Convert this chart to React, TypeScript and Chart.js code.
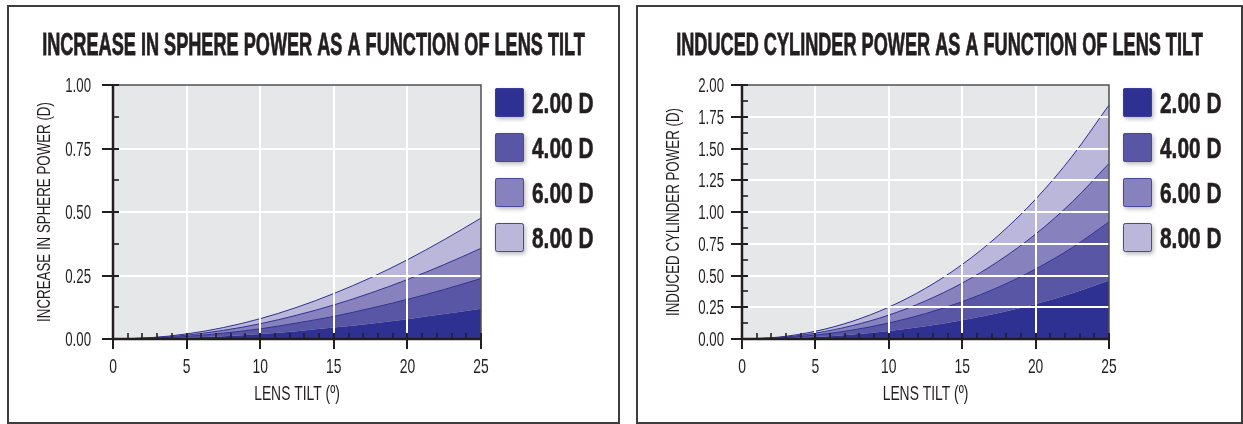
import React, { useEffect, useRef } from "react";
import { Chart, registerables } from "chart.js";

Chart.register(...registerables);

// ---------- data ----------
const TILT_DEG = [0, 2.5, 5, 7.5, 10, 12.5, 15, 17.5, 20, 22.5, 25];

const SPHERE_2D = [0, 0.001, 0.005, 0.011, 0.020, 0.031, 0.045, 0.060, 0.078, 0.098, 0.119];
const SPHERE_4D = [0, 0.003, 0.010, 0.023, 0.040, 0.063, 0.089, 0.121, 0.156, 0.195, 0.238];
const SPHERE_6D = [0, 0.004, 0.015, 0.034, 0.060, 0.094, 0.134, 0.181, 0.234, 0.293, 0.357];
const SPHERE_8D = [0, 0.005, 0.020, 0.045, 0.080, 0.125, 0.179, 0.241, 0.312, 0.391, 0.476];

const CYL_2D = [0, 0.004, 0.015, 0.035, 0.063, 0.100, 0.147, 0.205, 0.275, 0.360, 0.461];
const CYL_4D = [0, 0.008, 0.031, 0.070, 0.126, 0.200, 0.294, 0.410, 0.551, 0.720, 0.922];
const CYL_6D = [0, 0.011, 0.046, 0.105, 0.188, 0.300, 0.440, 0.615, 0.826, 1.080, 1.382];
const CYL_8D = [0, 0.015, 0.061, 0.139, 0.251, 0.399, 0.587, 0.819, 1.101, 1.440, 1.843];

const LEGEND_LABELS = ["2.00 D", "4.00 D", "6.00 D", "8.00 D"];
const X_TICKS = [0, 5, 10, 15, 20, 25];
const SPHERE_Y_TICKS = [0, 0.25, 0.5, 0.75, 1.0];
const CYL_Y_TICKS = [0, 0.25, 0.5, 0.75, 1.0, 1.25, 1.5, 1.75, 2.0];

const SPHERE_TITLE = "INCREASE IN SPHERE POWER AS A FUNCTION OF LENS TILT";
const CYL_TITLE = "INDUCED CYLINDER POWER AS A FUNCTION OF LENS TILT";
const SPHERE_Y_TITLE = "INCREASE IN SPHERE POWER (D)";
const CYL_Y_TITLE = "INDUCED CYLINDER POWER (D)";
const X_TITLE = "LENS TILT (º)";

// ---------- styles ----------
const FILLS = ["#2e3192", "#5a56a6", "#8782bd", "#bab7da"];
const LINE = "#2e3192";
const INK = "#231f20";
const SANS = "'Liberation Sans', Arial, sans-serif";

type Spec = {
  series: number[][];
  yTicks: number[];
  yMax: number;
  title: string;
  yTitle: string;
  width: number;
  height: number;
  padding: { left: number; top: number; right: number; bottom: number };
  yLabelGap: number;
};

function drawText(
  ctx: CanvasRenderingContext2D,
  text: string,
  x: number,
  y: number,
  font: string,
  scaleX: number,
  align: CanvasTextAlign,
  rotate = false,
  stroke = 0
) {
  ctx.save();
  ctx.translate(x, y);
  if (rotate) ctx.rotate(-Math.PI / 2);
  ctx.scale(scaleX, 1);
  ctx.font = font;
  ctx.textAlign = align;
  ctx.textBaseline = "alphabetic";
  ctx.fillStyle = INK;
  ctx.fillText(text, 0, 0);
  if (stroke > 0) {
    ctx.strokeStyle = INK;
    ctx.lineWidth = stroke;
    ctx.strokeText(text, 0, 0);
  }
  ctx.restore();
}

function line(ctx: CanvasRenderingContext2D, x1: number, y1: number, x2: number, y2: number) {
  ctx.beginPath();
  ctx.moveTo(x1, y1);
  ctx.lineTo(x2, y2);
  ctx.stroke();
}

function makeDecor(spec: Spec) {
  return {
    id: "decor",
    beforeDatasetsDraw(chart: any) {
      const { ctx, chartArea: a } = chart;
      ctx.save();
      ctx.fillStyle = "#e6e7e8";
      ctx.fillRect(a.left, a.top, a.right - a.left, a.bottom - a.top);
      ctx.restore();
    },
    afterDraw(chart: any) {
      const { ctx, chartArea: a } = chart;
      const xs = chart.scales.x;
      const ys = chart.scales.y;
      ctx.save();
      ctx.lineCap = "butt";

      // white grid drawn over the areas
      ctx.strokeStyle = "#ffffff";
      ctx.lineWidth = 2;
      spec.yTicks.forEach((v) => {
        if (v === 0 || v === spec.yMax) return;
        const py = Math.round(ys.getPixelForValue(v));
        line(ctx, a.left, py, a.right, py);
      });
      X_TICKS.forEach((v) => {
        if (v === 0 || v === 25) return;
        const px = Math.round(xs.getPixelForValue(v));
        line(ctx, px, a.top, px, a.bottom - 6);
      });

      // plot frame (top/right)
      ctx.strokeStyle = "#505050";
      ctx.lineWidth = 1.5;
      ctx.beginPath();
      ctx.moveTo(a.left, a.top);
      ctx.lineTo(a.right, a.top);
      ctx.lineTo(a.right, a.bottom);
      ctx.stroke();

      // axes
      ctx.strokeStyle = INK;
      ctx.lineWidth = 2.5;
      line(ctx, a.left, a.top, a.left, a.bottom);
      line(ctx, a.left - 1, a.bottom, a.right + 1, a.bottom);

      // y ticks
      const step = spec.yTicks[1] - spec.yTicks[0];
      ctx.lineWidth = 2;
      spec.yTicks.forEach((v) => {
        const py = Math.round(ys.getPixelForValue(v));
        line(ctx, a.left - 11, py, a.left + 6, py);
        drawText(ctx, v.toFixed(2), a.left - spec.yLabelGap, py + 7, `19.5px ${SANS}`, 0.68, "right");
        if (v < spec.yMax) {
          const pm = Math.round(ys.getPixelForValue(v + step / 2));
          ctx.lineWidth = 1.6;
          line(ctx, a.left, pm, a.left + 6, pm);
          ctx.lineWidth = 2;
        }
      });

      // x ticks
      for (let d = 0; d <= 25; d++) {
        const px = Math.round(xs.getPixelForValue(d));
        if (d % 5 === 0) {
          ctx.lineWidth = 2;
          line(ctx, px, a.bottom - 6, px, a.bottom + 10);
        } else {
          ctx.lineWidth = 1.6;
          line(ctx, px, a.bottom - 6, px, a.bottom);
        }
      }
      X_TICKS.forEach((v) => {
        const px = xs.getPixelForValue(v);
        drawText(ctx, String(v), px, a.bottom + 34, `21px ${SANS}`, 0.66, "center");
      });

      // axis titles
      drawText(ctx, X_TITLE, (a.left + a.right) / 2, a.bottom + 61, `21px ${SANS}`, 0.66, "center");
      drawText(ctx, spec.yTitle, a.left - 63.5, (a.top + a.bottom) / 2, `18.5px ${SANS}`, 0.72, "center", true);

      // chart title
      drawText(ctx, spec.title, spec.width / 2, 48, `bold 31px ${SANS}`, 0.585, "center", false, 0.8);

      // legend
      const bx = a.right + 14;
      LEGEND_LABELS.forEach((lab, i) => {
        const by = 81 + i * 45;
        ctx.save();
        ctx.shadowColor = "rgba(0,0,0,0.28)";
        ctx.shadowBlur = 4;
        ctx.shadowOffsetX = 1.5;
        ctx.shadowOffsetY = 2;
        ctx.fillStyle = FILLS[i];
        ctx.beginPath();
        (ctx as any).roundRect(bx, by, 29, 29, 2);
        ctx.fill();
        ctx.restore();
        ctx.strokeStyle = i === 0 ? "#3a3d9c" : "#4a47a0";
        ctx.lineWidth = 1;
        ctx.beginPath();
        (ctx as any).roundRect(bx + 0.5, by + 0.5, 28, 28, 2);
        ctx.stroke();
        drawText(ctx, lab, bx + 37, by + 25, `bold 29px ${SANS}`, 0.72, "left", false, 0.6);
      });

      ctx.restore();
    },
  };
}

function AreaChart({ spec }: { spec: Spec }) {
  const ref = useRef<HTMLCanvasElement | null>(null);
  useEffect(() => {
    if (!ref.current) return;
    const datasets = spec.series.map((arr, i) => ({
      label: LEGEND_LABELS[i],
      data: TILT_DEG.map((x, j) => ({ x, y: arr[j] })),
      backgroundColor: FILLS[i],
      borderColor: LINE,
      borderWidth: i === 0 ? 0 : 1,
      pointRadius: 0,
      cubicInterpolationMode: "monotone" as const,
      fill: i === 0 ? "origin" : "-1",
    }));
    const chart = new Chart(ref.current, {
      type: "line",
      data: { datasets },
      options: {
        animation: false,
        responsive: false,
        events: [],
        layout: { padding: spec.padding },
        plugins: { legend: { display: false }, title: { display: false }, tooltip: { enabled: false } },
        scales: {
          x: { type: "linear", min: 0, max: 25, display: false },
          y: { type: "linear", min: 0, max: spec.yMax, display: false },
        },
      },
      plugins: [makeDecor(spec)],
    } as any);
    return () => chart.destroy();
  }, [spec]);
  return <canvas ref={ref} width={spec.width} height={spec.height} style={{ display: "block", width: spec.width, height: spec.height }} />;
}

const LEFT_SPEC: Spec = {
  series: [SPHERE_2D, SPHERE_4D, SPHERE_6D, SPHERE_8D],
  yTicks: SPHERE_Y_TICKS,
  yMax: 1,
  title: SPHERE_TITLE,
  yTitle: SPHERE_Y_TITLE,
  width: 609,
  height: 415,
  padding: { left: 104, top: 78, right: 137, bottom: 83 },
  yLabelGap: 22,
};

const RIGHT_SPEC: Spec = {
  series: [CYL_2D, CYL_4D, CYL_6D, CYL_8D],
  yTicks: CYL_Y_TICKS,
  yMax: 2,
  title: CYL_TITLE,
  yTitle: CYL_Y_TITLE,
  width: 603,
  height: 415,
  padding: { left: 104, top: 78, right: 132, bottom: 83 },
  yLabelGap: 18,
};

const panelStyle = (left: number, width: number): React.CSSProperties => ({
  position: "absolute",
  left,
  top: 5,
  width,
  height: 419,
  border: "2px solid #3d3d3d",
  boxSizing: "border-box",
  background: "#ffffff",
});

export default function App() {
  return (
    <div style={{ position: "fixed", left: 0, top: 0, width: 1243, height: 424, overflow: "hidden", background: "#ffffff" }}>
      <div style={panelStyle(7, 613)}>
        <AreaChart spec={LEFT_SPEC} />
      </div>
      <div style={panelStyle(636, 607)}>
        <AreaChart spec={RIGHT_SPEC} />
      </div>
    </div>
  );
}
